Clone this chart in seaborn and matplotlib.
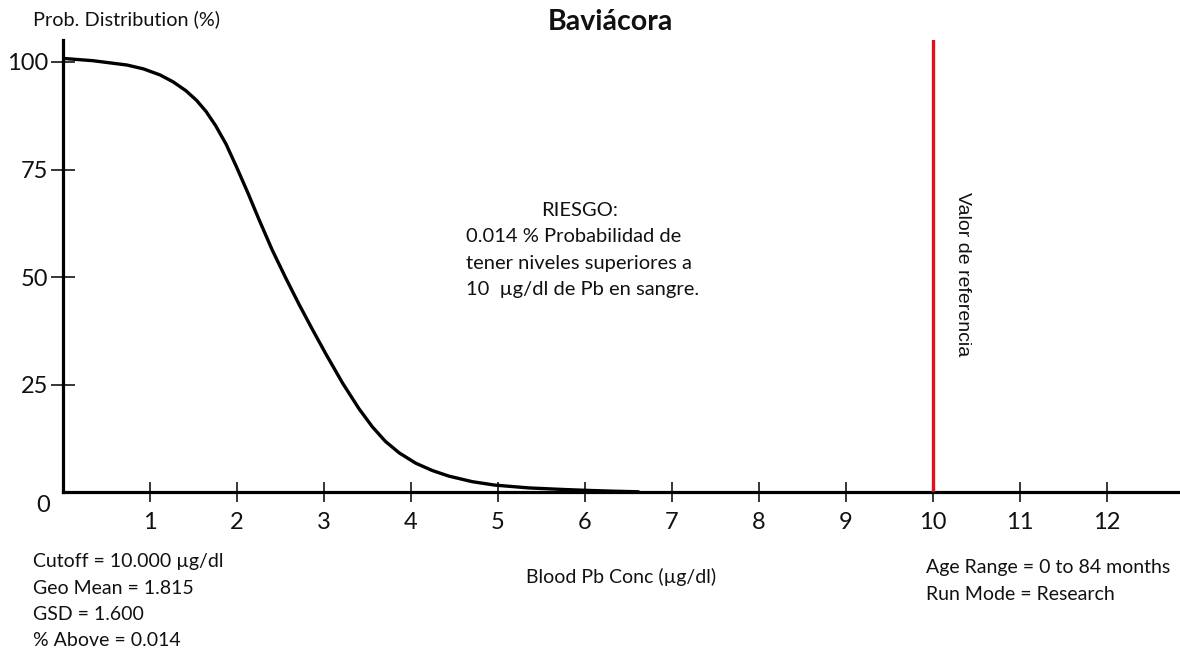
import matplotlib
matplotlib.use("Agg")
import matplotlib.pyplot as plt
import seaborn as sns
import pandas as pd

# Blood lead concentration (µg/dl) vs. probability of exceeding it (%)
conc = [0.03, 0.35, 0.74, 0.93, 1.12, 1.27, 1.42, 1.54, 1.65, 1.76, 1.88, 2.00,
        2.13, 2.26, 2.41, 2.57, 2.72, 2.87, 3.03, 3.22, 3.41, 3.56, 3.71, 3.87,
        4.06, 4.25, 4.44, 4.71, 4.97, 5.36, 5.74, 6.00, 6.31, 6.62]
prob = [100.8, 100.3, 99.3, 98.4, 97.0, 95.4, 93.3, 91.1, 88.5, 85.2, 80.9, 75.6,
        69.6, 63.3, 56.3, 49.6, 43.6, 37.9, 32.0, 25.3, 19.3, 15.2, 11.8, 9.1,
        6.7, 5.0, 3.7, 2.4, 1.6, 0.95, 0.6, 0.4, 0.2, 0.05]

x_ticks = list(range(1, 13))
y_ticks = [25, 50, 75, 100]
cutoff_value = 10

title = "Baviácora"
y_title = "Prob. Distribution (%)"
x_title = "Blood Pb Conc (µg/dl)"
ref_label = "Valor de referencia"
risk_head = "RIESGO:"
risk_lines = ["0.014 % Probabilidad de",
              "tener niveles superiores a",
              "10  µg/dl de Pb en sangre."]
stats_left = ["Cutoff = 10.000 µg/dl", "Geo Mean = 1.815",
              "GSD = 1.600", "% Above = 0.014"]
stats_right = ["Age Range = 0 to 84 months", "Run Mode = Research"]

df = pd.DataFrame({"conc": conc, "prob": prob})

sns.set_style("white")
plt.rcParams["font.family"] = ["Lato", "DejaVu Sans"]
plt.rcParams["text.color"] = "#111111"

W, H = 1180, 654
fig = plt.figure(figsize=(W / 100, H / 100), dpi=100)


def fpos(x, y):
    return x / W, 1 - y / H


x0, y0, ytop = 62.5, 492, 40
ax = fig.add_axes([x0 / W, (H - y0) / H, (W - x0) / W, (y0 - ytop) / H])
ax.set_facecolor("white")

sns.lineplot(data=df, x="conc", y="prob", ax=ax, color="black", lw=2.4,
             estimator=None, sort=False, solid_joinstyle="round",
             solid_capstyle="round")
ax.axvline(cutoff_value, color="#e0101a", lw=2.4, zorder=3)

ax.set_xlim(0, (W - x0) / 87.0)
ax.set_ylim(0, (y0 - ytop) / 4.3)
ax.set_xticks(x_ticks)
ax.set_yticks(y_ticks)
ax.set_xticklabels([str(t) for t in x_ticks])
ax.set_yticklabels([str(t) for t in y_ticks])
ax.set_xlabel("")
ax.set_ylabel("")

for side in ["top", "right"]:
    ax.spines[side].set_visible(False)
for side in ["left", "bottom"]:
    ax.spines[side].set_linewidth(2.3)
    ax.spines[side].set_color("black")

ax.tick_params(axis="x", bottom=True, direction="inout", length=15, width=1.1,
               labelsize=17, pad=7, colors="black", labelcolor="#111111")
ax.tick_params(axis="y", left=True, direction="inout", length=17, width=1.1,
               labelsize=17, pad=2, colors="black", labelcolor="#111111")

# Texts around the axes
fig.text(*fpos(43, 505), "0", fontsize=17, ha="center", va="center")
fig.text(*fpos(610, 22), title, fontsize=20.5, fontweight="bold",
         ha="center", va="center")
fig.text(*fpos(33, 19), y_title, fontsize=14.3, ha="left", va="center")
fig.text(*fpos(621, 577), x_title, fontsize=14, ha="center", va="center")

for i, line in enumerate(stats_left):
    fig.text(*fpos(33, 562 + 26 * i), line, fontsize=14,
             ha="left", va="center")
for i, line in enumerate(stats_right):
    fig.text(*fpos(926, 568 + 26 * i), line, fontsize=14,
             ha="left", va="center")

fig.text(*fpos(580, 211), risk_head, fontsize=14.5, ha="center", va="center")
for i, line in enumerate(risk_lines):
    fig.text(*fpos(466, 237 + 26.5 * i), line, fontsize=14.5,
             ha="left", va="center")

fig.text(*fpos(962, 274), ref_label, fontsize=14, rotation=270,
         family=["Liberation Sans", "DejaVu Sans"], ha="center", va="center")

fig.savefig("out.png", dpi=100, facecolor="white")
